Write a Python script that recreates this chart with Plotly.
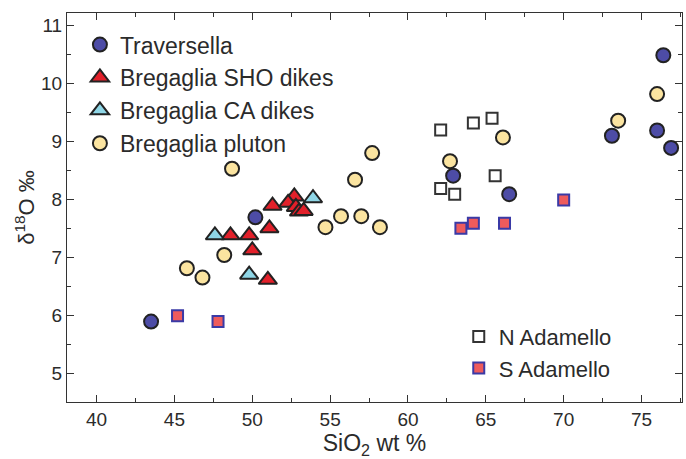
import plotly.graph_objects as go

# SiO2 (wt %) and delta-18O (permil) for each suite
trav_sio2 = [43.5, 50.2, 62.9, 66.5, 73.1, 76.0, 76.9, 76.4]
trav_d18o = [5.89, 7.69, 8.41, 8.09, 9.10, 9.19, 8.89, 10.49]

sho_sio2 = [48.6, 49.8, 50.0, 51.1, 51.0, 51.3, 52.7, 52.3, 52.8, 53.0, 53.3]
sho_d18o = [7.38, 7.38, 7.12, 7.50, 6.61, 7.89, 8.05, 7.94, 7.87, 7.79, 7.80]

ca_sio2 = [47.6, 49.8, 53.9]
ca_d18o = [7.38, 6.70, 8.02]

plu_sio2 = [45.8, 46.8, 48.2, 48.7, 54.7, 55.7, 57.0, 58.2, 56.6, 57.7,
            62.7, 66.1, 73.5, 76.0]
plu_d18o = [6.81, 6.65, 7.04, 8.53, 7.52, 7.71, 7.71, 7.52, 8.34, 8.80,
            8.66, 9.07, 9.36, 9.82]

nad_sio2 = [62.1, 64.2, 65.4, 65.6, 62.1, 63.0]
nad_d18o = [9.20, 9.32, 9.40, 8.41, 8.19, 8.09]

sad_sio2 = [45.2, 47.8, 63.4, 64.2, 66.2, 70.0]
sad_d18o = [5.99, 5.89, 7.50, 7.59, 7.59, 7.99]

FONT = "Liberation Sans, Arial, sans-serif"
TXT = "#2b2b2b"
EDGE = "#222222"

fig = go.Figure()

fig.add_trace(go.Scatter(
    x=trav_sio2, y=trav_d18o, mode="markers", name="Traversella",
    marker=dict(symbol="circle", size=14, color="#4d4ca6",
                line=dict(color=EDGE, width=2)),
    legend="legend"))
fig.add_trace(go.Scatter(
    x=sho_sio2, y=sho_d18o, mode="markers", name="Bregaglia SHO dikes",
    marker=dict(symbol="triangle-up", size=16, color="#e2202a",
                line=dict(color=EDGE, width=2)),
    legend="legend"))
fig.add_trace(go.Scatter(
    x=ca_sio2, y=ca_d18o, mode="markers", name="Bregaglia CA dikes",
    marker=dict(symbol="triangle-up", size=16, color="#8fd6e6",
                line=dict(color=EDGE, width=2)),
    legend="legend"))
fig.add_trace(go.Scatter(
    x=plu_sio2, y=plu_d18o, mode="markers", name="Bregaglia pluton",
    marker=dict(symbol="circle", size=14, color="#fbe4a0",
                line=dict(color=EDGE, width=2)),
    legend="legend"))
fig.add_trace(go.Scatter(
    x=nad_sio2, y=nad_d18o, mode="markers", name="N Adamello",
    marker=dict(symbol="square", size=11, color="white",
                line=dict(color="#333333", width=2)),
    legend="legend2"))
fig.add_trace(go.Scatter(
    x=sad_sio2, y=sad_d18o, mode="markers", name="S Adamello",
    marker=dict(symbol="square", size=11, color="#ee5b5c",
                line=dict(color="#3a3aa6", width=2)),
    legend="legend2"))

axis_common = dict(
    showline=True, linecolor="#333333", linewidth=1, mirror="ticks",
    ticks="inside", ticklen=7, tickwidth=1, tickcolor="#333333",
    showgrid=False, zeroline=False,
    tickfont=dict(family=FONT, size=19, color=TXT),
)

fig.update_layout(
    width=686, height=459,
    margin=dict(l=67, r=4, t=13, b=57),
    paper_bgcolor="white", plot_bgcolor="white",
    font=dict(family=FONT, color=TXT),
    xaxis=dict(
        range=[38.1, 77.6], tick0=40, dtick=5,
        minor=dict(ticks="inside", ticklen=4, dtick=2.5, tick0=40,
                   tickcolor="#333333"),
        title=dict(text="SiO<sub>2</sub> wt %", standoff=3,
                   font=dict(family=FONT, size=23, color=TXT)),
        **axis_common),
    yaxis=dict(
        range=[4.5, 11.22], tick0=5, dtick=1,
        minor=dict(ticks="inside", ticklen=4, dtick=0.5, tick0=5,
                   tickcolor="#333333"),
        title=dict(text="δ<sup>18</sup>O ‰", standoff=0,
                   font=dict(family=FONT, size=22, color=TXT)),
        **axis_common),
    legend=dict(
        x=0.021, y=0.974, xanchor="left", yanchor="top",
        bgcolor="rgba(0,0,0,0)", borderwidth=0,
        font=dict(family=FONT, size=23, color=TXT),
        tracegroupgap=0, itemsizing="trace"),
    legend2=dict(
        x=0.637, y=0.222, xanchor="left", yanchor="top",
        bgcolor="rgba(0,0,0,0)", borderwidth=0,
        font=dict(family=FONT, size=22, color=TXT),
        tracegroupgap=0, itemsizing="trace"),
)

fig.write_html("out.html")
